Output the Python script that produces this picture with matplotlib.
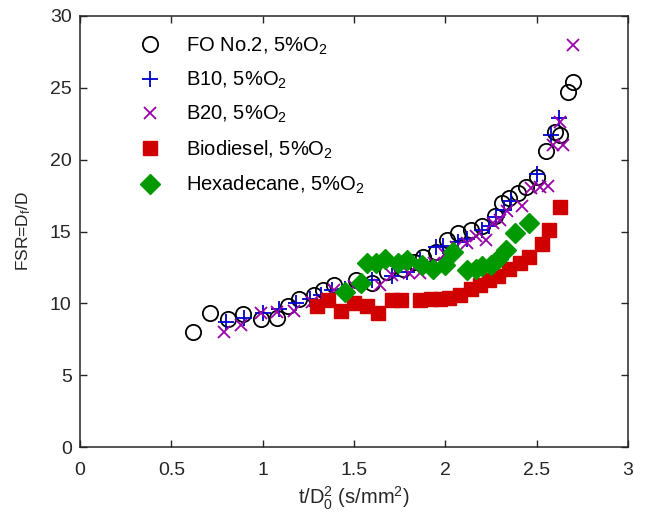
import matplotlib
matplotlib.use("Agg")
import matplotlib.pyplot as plt

plt.rcParams['font.family'] = ['Liberation Sans', 'DejaVu Sans']
plt.rcParams['mathtext.fontset'] = 'custom'
plt.rcParams['mathtext.rm'] = 'Liberation Sans'
plt.rcParams['mathtext.it'] = 'Liberation Sans:italic'
plt.rcParams['mathtext.default'] = 'regular'

# --- data ---
fo_x = [0.62, 0.71, 0.81, 0.89, 0.99, 1.08, 1.14, 1.20, 1.28, 1.33, 1.39, 1.51, 1.60,
        1.68, 1.77, 1.83, 1.88, 1.95, 2.01, 2.07, 2.14, 2.20, 2.27, 2.31, 2.35, 2.40,
        2.44, 2.50, 2.55, 2.60, 2.63, 2.67, 2.70]
fo_y = [7.98, 9.35, 8.88, 9.25, 8.90, 9.00, 9.80, 10.3, 10.6, 10.9, 11.3, 11.6, 11.4,
        12.2, 12.4, 12.9, 13.2, 13.6, 14.4, 14.9, 15.1, 15.4, 16.1, 17.0, 17.3, 17.7,
        18.1, 18.8, 20.6, 21.9, 21.7, 24.7, 25.4]

b10_x = [0.80, 0.90, 1.00, 1.09, 1.18, 1.26, 1.32, 1.38, 1.45, 1.60, 1.71, 1.79, 1.86,
         1.95, 1.99, 2.07, 2.12, 2.20, 2.24, 2.28, 2.32, 2.36, 2.50, 2.58, 2.62]
b10_y = [8.7, 9.0, 9.3, 9.6, 10.0, 10.3, 10.6, 10.9, 11.0, 11.6, 11.9, 12.2, 13.0,
         13.9, 14.0, 14.3, 14.5, 15.1, 15.4, 16.0, 16.5, 17.1, 19.0, 21.7, 22.9]

b20_x = [0.79, 0.88, 0.99, 1.08, 1.17, 1.27, 1.39, 1.50, 1.64, 1.71, 1.80, 1.86, 1.94,
         2.00, 2.06, 2.12, 2.17, 2.22, 2.26, 2.30, 2.34, 2.42, 2.47, 2.52, 2.56, 2.59,
         2.63, 2.645, 2.70]
b20_y = [8.0, 8.5, 9.3, 9.4, 9.5, 10.1, 10.9, 11.2, 11.3, 12.0, 12.1, 12.1, 12.8,
         13.4, 13.9, 14.2, 14.7, 14.4, 15.6, 15.8, 16.4, 16.8, 18.0, 18.1, 18.2, 21.0,
         22.6, 21.0, 28.0]

bio_x = [1.30, 1.36, 1.43, 1.50, 1.57, 1.63, 1.71, 1.76, 1.86, 1.92, 1.97, 2.02, 2.08,
         2.14, 2.19, 2.24, 2.29, 2.35, 2.41, 2.46, 2.53, 2.57, 2.63]
bio_y = [9.8, 10.2, 9.5, 10.0, 9.8, 9.3, 10.2, 10.2, 10.2, 10.3, 10.3, 10.4, 10.6,
         11.0, 11.3, 11.6, 11.9, 12.4, 12.8, 13.2, 14.1, 15.1, 16.7]

hex_x = [1.45, 1.54, 1.57, 1.62, 1.67, 1.74, 1.79, 1.87, 1.93, 2.00, 2.04, 2.12, 2.17,
         2.20, 2.25, 2.29, 2.33, 2.38, 2.46]
hex_y = [10.8, 11.4, 12.8, 12.8, 13.1, 12.8, 13.0, 12.7, 12.4, 12.7, 13.6, 12.3, 12.4,
         12.6, 12.7, 13.1, 13.7, 14.9, 15.6]

labels = ["FO No.2, 5%O$_2$", "B10, 5%O$_2$", "B20, 5%O$_2$",
          "Biodiesel, 5%O$_2$", "Hexadecane, 5%O$_2$"]

fig = plt.figure(figsize=(6.49, 5.16), dpi=100)
ax = fig.add_axes([0.1233, 0.1337, 0.8443, 0.8353])

ax.plot(fo_x, fo_y, 'o', ms=11, mfc='none', mec='black', mew=1.3, label=labels[0])
ax.plot(b10_x, b10_y, '+', ms=11, mec='#0000CC', mew=1.3, label=labels[1])
ax.plot(b20_x, b20_y, 'x', ms=9, mec='#9900AA', mew=1.3, label=labels[2])
ax.plot(bio_x, bio_y, 's', ms=9.5, mfc='#D00000', mec='#D00000', label=labels[3])
ax.plot(hex_x, hex_y, 'D', ms=10, mfc='#009900', mec='#009900', label=labels[4])

ax.set_xlim(0, 3)
ax.set_ylim(0, 30)
ax.set_xticks([0, 0.5, 1, 1.5, 2, 2.5, 3])
ax.set_xticklabels(["0", "0.5", "1", "1.5", "2", "2.5", "3"])
ax.set_yticks(range(0, 31, 5))
ax.tick_params(direction='in', top=True, right=True, length=5, width=1,
               labelsize=14, colors='#262626')
ax.tick_params(axis='x', pad=11)
ax.tick_params(axis='y', pad=6)
for s in ax.spines.values():
    s.set_linewidth(1.1)
    s.set_color('#262626')

ax.set_xlabel("t/D$_0^2$ (s/mm$^2$)", fontsize=14.5, color='#262626', labelpad=4)
ax.set_ylabel("FSR=D$_f$/D", fontsize=12.5, color='#262626', labelpad=12)

ax.legend(loc='upper left', bbox_to_anchor=(0.077, 0.974), frameon=False,
          fontsize=14.5, handletextpad=0.75, labelspacing=0.65, borderaxespad=0)

plt.savefig("out.png", dpi=100)
